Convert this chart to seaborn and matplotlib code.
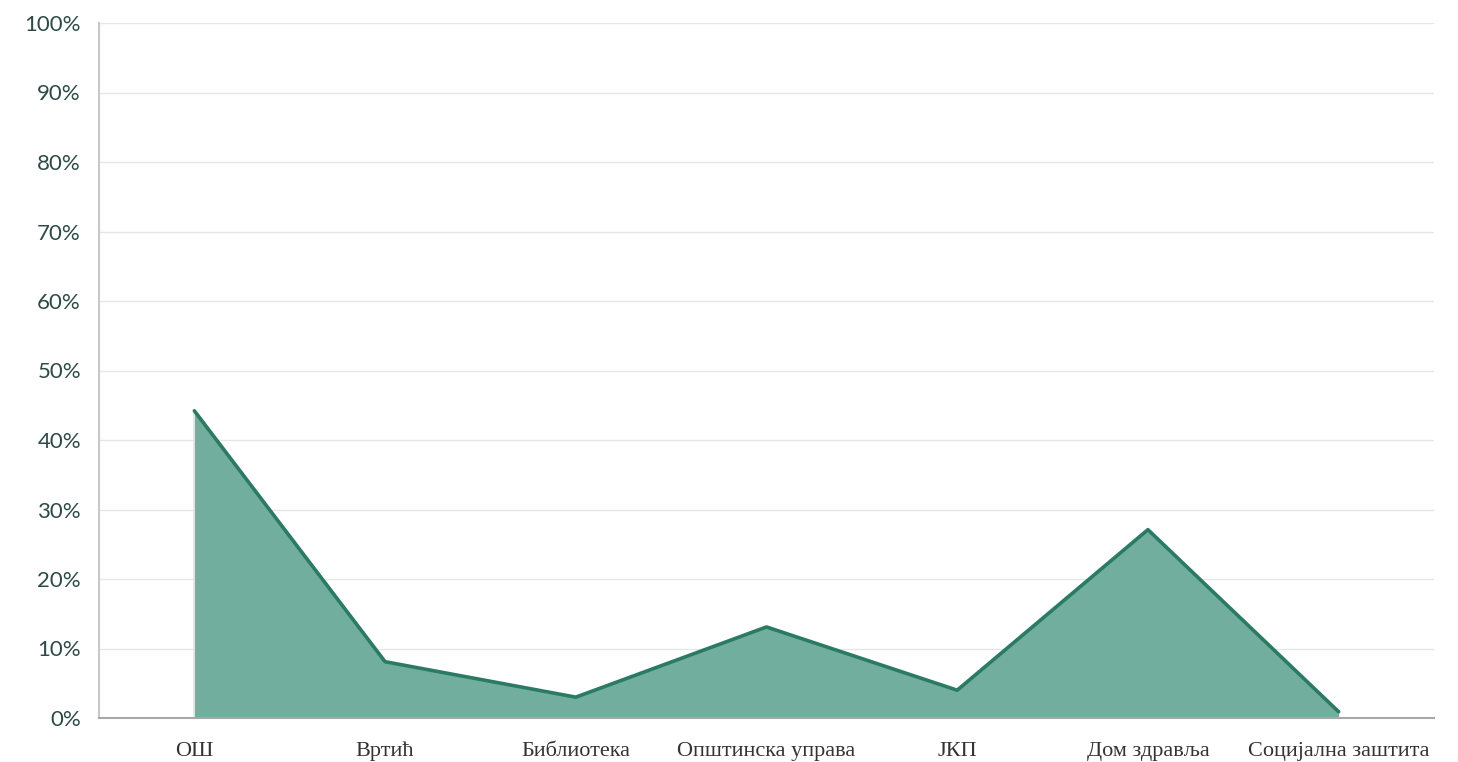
import matplotlib
matplotlib.use("Agg")
import matplotlib.pyplot as plt
import seaborn as sns
import pandas as pd
from matplotlib.ticker import PercentFormatter, MultipleLocator

categories = ["ОШ", "Вртић", "Библиотека", "Општинска управа", "ЈКП", "Дом здравља", "Социјална заштита"]
values = [44.2, 8.1, 3.0, 13.1, 4.0, 27.1, 0.9]

sns.set_theme(style="white")
plt.rcParams['font.family'] = ['Lato', 'DejaVu Sans']

df = pd.DataFrame({"idx": range(len(categories)), "val": values})

fig = plt.figure(figsize=(14.58, 7.62), dpi=100)
ax = fig.add_axes([99/1458, 1-718/762, (1434-99)/1458, (718-23)/762])

line_color = "#2a7a64"
fill_color = "#71ae9d"
ax.fill_between(df["idx"], df["val"], 0, color=fill_color, linewidth=0, zorder=2)
sns.lineplot(data=df, x="idx", y="val", ax=ax, color=line_color, linewidth=2.6, zorder=3)
ax.plot([0, 0], [0, values[0]], color="#d8e6e1", linewidth=1.2, zorder=2.5)

ax.set_xlim(-0.5, 6.5)
ax.set_ylim(0, 100)
ax.yaxis.set_major_locator(MultipleLocator(10))
ax.yaxis.set_major_formatter(PercentFormatter(decimals=0))
ax.set_xticks(range(len(categories)))
ax.set_xticklabels(categories, fontfamily="Liberation Serif", fontsize=16, color="#333333")
ax.tick_params(axis="y", labelsize=16, labelcolor="#2d4a47", length=0, pad=13)
ax.tick_params(axis="x", length=0, pad=17)
ax.set_xlabel("")
ax.set_ylabel("")

ax.grid(axis="y", color="#e6e6e6", linewidth=1, zorder=0)
ax.set_axisbelow(True)
for s in ["top", "right"]:
    ax.spines[s].set_visible(False)
ax.spines["left"].set_color("#c8c8c8")
ax.spines["left"].set_linewidth(1.5)
ax.spines["bottom"].set_color("#a8a8a8")
ax.spines["bottom"].set_linewidth(1.5)
ax.spines["bottom"].set_zorder(4)

fig.savefig("out.png", dpi=100)
